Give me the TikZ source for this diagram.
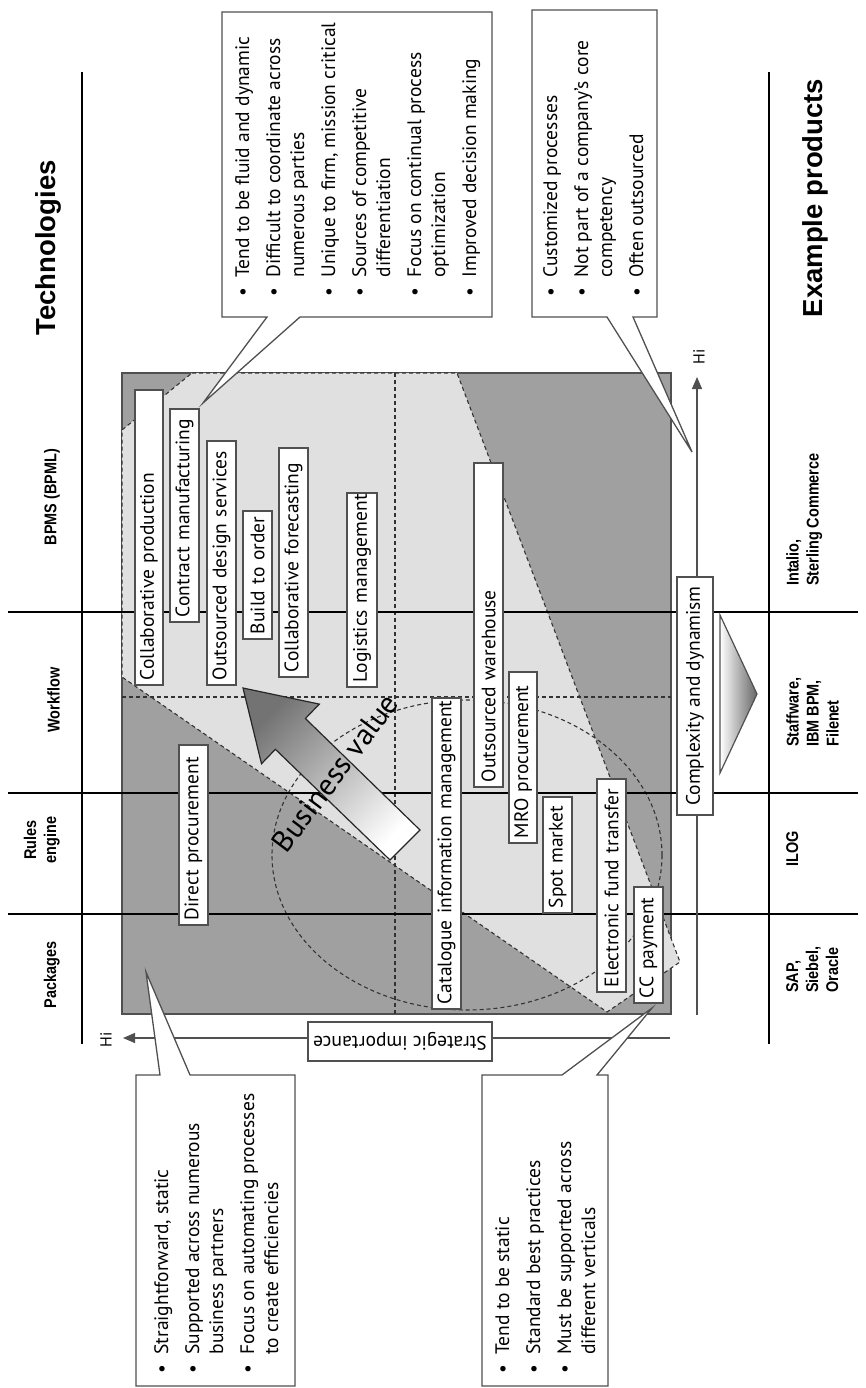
\documentclass[tikz,border=0pt]{standalone}
\usepackage{fontspec}
\setmainfont{PT Sans}
\newfontfamily\headfont{Liberation Sans}
\newfontfamily\condfont[FakeStretch=0.85]{Liberation Sans}
\usetikzlibrary{arrows.meta}

\definecolor{darkfill}{HTML}{A0A0A0}
\definecolor{lightfill}{HTML}{E0E0E0}
\definecolor{edge}{HTML}{505050}

\tikzset{
  body/.style={font=\fontsize{19.5}{24}\selectfont},
  itembox/.style={draw=edge, line width=1.3pt, fill=white, rotate=90, inner xsep=5pt, inner ysep=0pt, align=left, body},
  labelbox/.style={draw=edge, line width=1.3pt, fill=white, inner sep=0pt, body},
  callout/.style={draw=edge, line width=1.3pt, fill=white, line join=miter},
  bullets/.style={rotate=90, anchor=north west, inner sep=0pt, body},
  sepline/.style={line width=1.3pt, black},
  quadline/.style={line width=1.1pt, dash pattern=on 4pt off 3pt, black!80},
  axis/.style={line width=1.3pt, edge},
  axistip/.style={-{Triangle[length=12pt,width=10pt]}},
  colhead/.style={rotate=90, font=\condfont\bfseries\fontsize{17}{20}\selectfont, inner sep=0pt, align=center},
  product/.style={rotate=90, anchor=north west, font=\condfont\bfseries\fontsize{17}{20}\selectfont, inner sep=0pt, align=left},
  bighead/.style={rotate=90, font=\headfont\bfseries\fontsize{27.5}{32}\selectfont, inner sep=0pt},
  hilabel/.style={rotate=90, font=\fontsize{16}{18}\selectfont, inner sep=0pt},
}

\begin{document}
\begin{tikzpicture}[x=1pt,y=-1pt]
\useasboundingbox (0,0) rectangle (865,1388);
\fill[white] (0,0) rectangle (865,1388);

% ---- portfolio chart ----
\fill[darkfill] (122,373) rectangle (671,1014);
\draw[edge, line width=1.3pt] (122,373) rectangle (671,1014);
\draw[quadline, fill=lightfill] (192,373) -- (457,373) -- (680,962) -- (607,1012) -- (122,677) -- (122,430) -- cycle;
\draw[quadline] (395,373) -- (395,1014);
\draw[quadline] (122,697) -- (671,697);
\draw[quadline] (467,855) ellipse [x radius=195pt, y radius=155pt];

% ---- table rules ----
\draw[sepline] (82,72) -- (82,1044);
\draw[sepline] (769,72) -- (769,1044);
\draw[sepline] (8,612) -- (858,612);
\draw[sepline] (8,793) -- (858,793);
\draw[sepline] (8,914) -- (858,914);

% ---- headings ----
\node[bighead] (tech) at (48,248) {Technologies};
\node[bighead] (expl) at (815,198) {Example products};
\node[colhead, anchor=south] (hbpms) at (60,497) {BPMS (BPML)};
\node[colhead, anchor=south] (hwf) at (60,700) {Workflow};
\node[colhead, anchor=south] (hrules) at (60,840) {Rules\\engine};
\node[colhead, anchor=south] (hpack) at (60,975) {Packages};
\node[product] (pint) at (786,586) {Intalio,\\Sterling Commerce};
\node[product] (pstaff) at (786,747) {Staffware,\\IBM BPM,\\Filenet};
\node[product] (pilog) at (786,867) {ILOG};
\node[product] (psap) at (786,993) {SAP,\\Siebel,\\Oracle};

% ---- business value arrow ----
\shade[top color=black!55, bottom color=white, shading angle=46, draw=black!85, line width=1.2pt]
  (420,830) -- (305.4,718.5) -- (319.3,704.1) -- (243,688) -- (261.5,763.7) -- (275.4,749.3) -- (390,860) -- cycle;
\node[rotate=53, font=\fontsize{30}{36}\selectfont, inner sep=0pt] (bv) at (335,773) {Business value};

% ---- process boxes (text starts at the lower end and may run past the box) ----
\node[itembox, minimum width=295pt, minimum height=28pt, text width=285pt] (collabprod) at (149,537.5) {\mbox{Collaborative production}};
\node[itembox, minimum width=213pt, minimum height=29pt, text width=203pt] (contract) at (184.5,515.5) {\mbox{Contract manufacturing}};
\node[itembox, minimum width=244pt, minimum height=29pt, text width=234pt] (design) at (221.5,563) {\mbox{Outsourced design services}};
\node[itembox, minimum width=128pt, minimum height=29pt, text width=118pt] (build) at (257.5,575) {\mbox{Build to order}};
\node[itembox, minimum width=229pt, minimum height=29pt, text width=219pt] (forecast) at (293.5,562.5) {\mbox{Collaborative forecasting}};
\node[itembox, minimum width=194pt, minimum height=30pt, text width=184pt] (logistics) at (362,590) {\mbox{Logistics management}};
\node[itembox, minimum width=324pt, minimum height=29pt, text width=314pt] (warehouse) at (488.5,625) {\mbox{Outsourced warehouse}};
\node[itembox, minimum width=171pt, minimum height=28pt, text width=161pt] (mro) at (523,757.5) {\mbox{MRO procurement}};
\node[itembox, minimum width=311pt, minimum height=29pt, text width=301pt] (catalogue) at (446.5,853.5) {\mbox{Catalogue information management}};
\node[itembox, minimum width=116pt, minimum height=29pt, text width=106pt] (spot) at (557.5,855) {\mbox{Spot market}};
\node[itembox, minimum width=213pt, minimum height=29pt, text width=203pt] (eft) at (611.5,885.5) {\mbox{Electronic fund transfer}};
\node[itembox, minimum width=116pt, minimum height=29pt, text width=106pt] (cc) at (648.5,945) {\mbox{CC payment}};
\node[itembox, minimum width=180pt, minimum height=29pt, text width=170pt] (direct) at (193.5,835) {\mbox{Direct procurement}};

% ---- axes ----
\coordinate (cdStart) at (697,1015);
\coordinate (cdHi) at (697,377);
\draw[axis, axistip] (cdStart) -- (cdHi);
\node[labelbox, rotate=90, minimum width=238pt, minimum height=36pt] (cd) at (695,696) {Complexity and dynamism};
\node[hilabel] (cdlabel) at (699,357) {Hi};
\shade[left color=white, right color=black!60, draw=edge, line width=1.2pt] (720,615) -- (757,694) -- (720,773) -- cycle;

\coordinate (siStart) at (670,1038);
\coordinate (siHi) at (123,1038);
\draw[axis, axistip] (siStart) -- (siHi);
\node[labelbox, rotate=180, minimum width=184pt, minimum height=39pt] (si) at (400,1041.5) {Strategic importance};
\node[hilabel] (silabel) at (106,1040) {Hi};

% ---- callouts ----
\draw[callout] (222,12) -- (492,12) -- (492,317) -- (300,317) -- (203,403) -- (267,317) -- (222,317) -- cycle;
\node[bullets] (c1) at (232,296.5) {%
\begin{tabular}{@{}l@{\hspace{10pt}}l@{}}
\textbullet & Tend to be fluid and dynamic\\[7pt]
\textbullet & Difficult to coordinate across\\
 & numerous parties\\[7pt]
\textbullet & Unique to firm, mission critical\\[7pt]
\textbullet & Sources of competitive\\
 & differentiation\\[7pt]
\textbullet & Focus on continual process\\
 & optimization\\[7pt]
\textbullet & Improved decision making
\end{tabular}};

\draw[callout] (532,10) -- (657,10) -- (657,317) -- (633,317) -- (692,452) -- (607,317) -- (532,317) -- cycle;
\node[bullets] (c3) at (540,296.5) {%
\begin{tabular}{@{}l@{\hspace{10pt}}l@{}}
\textbullet & Customized processes\\[7pt]
\textbullet & Not part of a company’s core\\
 & competency\\[7pt]
\textbullet & Often outsourced
\end{tabular}};

\draw[callout] (136,1075) -- (160,1075) -- (146,972) -- (190,1075) -- (295,1075) -- (295,1386) -- (136,1386) -- cycle;
\node[bullets] (c4) at (151,1373.5) {%
\begin{tabular}{@{}l@{\hspace{10pt}}l@{}}
\textbullet & Straightforward, static\\[7pt]
\textbullet & Supported across numerous\\
 & business partners\\[7pt]
\textbullet & Focus on automating processes\\
 & to create efficiencies
\end{tabular}};

\draw[callout] (482,1075) -- (562,1075) -- (652,1008) -- (597,1075) -- (608,1075) -- (608,1386) -- (482,1386) -- cycle;
\node[bullets] (c5) at (492,1373.5) {%
\begin{tabular}{@{}l@{\hspace{10pt}}l@{}}
\textbullet & Tend to be static\\[7pt]
\textbullet & Standard best practices\\[7pt]
\textbullet & Must be supported across\\
 & different verticals
\end{tabular}};
\end{tikzpicture}
\end{document}
